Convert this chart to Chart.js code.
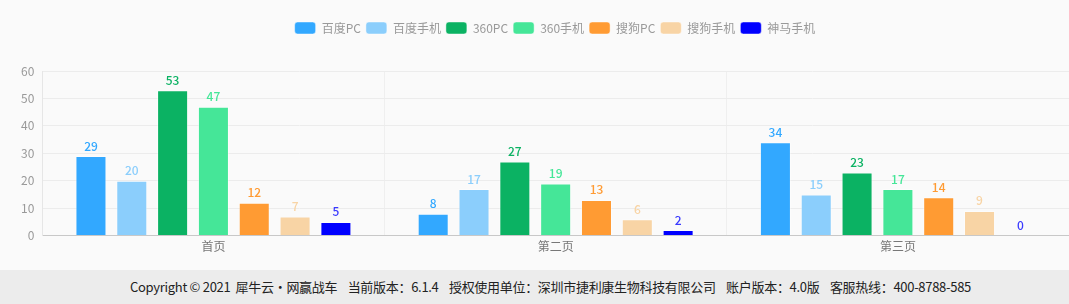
<!DOCTYPE html>
<html>
<head>
<meta charset="utf-8">
<script src="https://cdn.jsdelivr.net/npm/chart.js@4/dist/chart.umd.min.js"></script>
<style>
  html, body { margin: 0; padding: 0; background: #fafafa; }
  #wrap { position: relative; width: 1069px; height: 258px; }
  #footer {
    position: absolute; left: 0; top: 270px; width: 1069px; height: 34px;
    box-sizing: border-box; padding-left: 32px;
    background: #ececec; color: #222; text-align: center;
    font: 13px "Noto Sans CJK SC", sans-serif; letter-spacing: -0.3px; line-height: 34px;
    white-space: nowrap;
  }
</style>
</head>
<body>
<div id="wrap"><canvas id="barChart"></canvas></div>
<div id="footer">Copyright © 2021&nbsp; 犀牛云·网赢战车 &nbsp;&nbsp; 当前版本：6.1.4 &nbsp;&nbsp; 授权使用单位：深圳市捷利康生物科技有限公司 &nbsp;&nbsp; 账户版本：4.0版 &nbsp;&nbsp; 客服热线：400-8788-585</div>
<script>
// Categories and series
var pages = ['首页', '第二页', '第三页'];
var seriesNames = ['百度PC', '百度手机', '360PC', '360手机', '搜狗PC', '搜狗手机', '神马手机'];
var baiduPC = [29, 8, 34];
var baiduMobile = [20, 17, 15];
var pc360 = [53, 27, 23];
var mobile360 = [47, 19, 17];
var sogouPC = [12, 13, 14];
var sogouMobile = [7, 6, 9];
var shenmaMobile = [5, 2, 0];
var yTicks = [0, 10, 20, 30, 40, 50, 60];

var seriesColors = ['#32a8ff', '#8bcefc', '#0bb263', '#45e698', '#ff9b33', '#f8d4a5', '#0000ff'];
var seriesValues = [baiduPC, baiduMobile, pc360, mobile360, sogouPC, sogouMobile, shenmaMobile];

var fontFamily = '"Noto Sans CJK SC", "Noto Sans", sans-serif';

// Value labels above each bar
var valueLabels = {
  id: 'valueLabels',
  afterDatasetsDraw: function (chart) {
    var ctx = chart.ctx;
    ctx.save();
    ctx.font = '500 12px ' + fontFamily;
    ctx.textAlign = 'center';
    ctx.textBaseline = 'bottom';
    chart.data.datasets.forEach(function (ds, i) {
      var meta = chart.getDatasetMeta(i);
      if (meta.hidden) return;
      meta.data.forEach(function (bar, j) {
        ctx.fillStyle = ds.labelColor;
        ctx.fillText(ds.data[j], bar.x, bar.y - 4);
      });
    });
    ctx.restore();
  }
};

// Extra room between legend and plot, legend nudged right
var legendGap = {
  id: 'legendGap',
  beforeInit: function (chart) {
    var fit = chart.legend.fit;
    chart.legend.fit = function () {
      fit.bind(chart.legend)();
      this.height += 27;
    };
  },
  afterLayout: function (chart) {
    chart.legend.left += 14;
    chart.legend.right += 14;
  }
};

var datasets = seriesNames.map(function (name, i) {
  return {
    label: name,
    data: seriesValues[i],
    backgroundColor: seriesColors[i],
    borderColor: 'rgba(255,255,255,0.45)',
    borderWidth: 1,
    labelColor: seriesColors[i] === '#0000ff' ? '#3a3aff' : seriesColors[i],
    categoryPercentage: 0.835,
    barPercentage: 0.76
  };
});

var ctx = document.getElementById('barChart').getContext('2d');
new Chart(ctx, {
  type: 'bar',
  data: { labels: pages, datasets: datasets },
  options: {
    responsive: true,
    maintainAspectRatio: false,
    animation: false,
    layout: { padding: { top: 17, left: 13, right: 0, bottom: 0 } },
    plugins: {
      legend: {
        position: 'top',
        labels: {
          boxWidth: 21, boxHeight: 12, useBorderRadius: true, borderRadius: 3,
          color: '#999', padding: 5,
          font: { size: 12, family: fontFamily }
        }
      },
      tooltip: { enabled: false }
    },
    scales: {
      x: {
        grid: { color: '#efefef', offset: true, drawTicks: false },
        border: { color: '#c8c8c8' },
        ticks: { color: '#777', padding: 4, font: { size: 12, family: fontFamily } }
      },
      y: {
        min: 0, max: 60,
        afterBuildTicks: function (axis) { axis.ticks = yTicks.map(function (v) { return { value: v }; }); },
        grid: { color: '#ececec', drawTicks: false },
        border: { color: '#e6e6e6' },
        ticks: { color: '#999', padding: 8, font: { size: 12, family: fontFamily } }
      }
    }
  },
  plugins: [valueLabels, legendGap]
});
</script>
</body>
</html>
